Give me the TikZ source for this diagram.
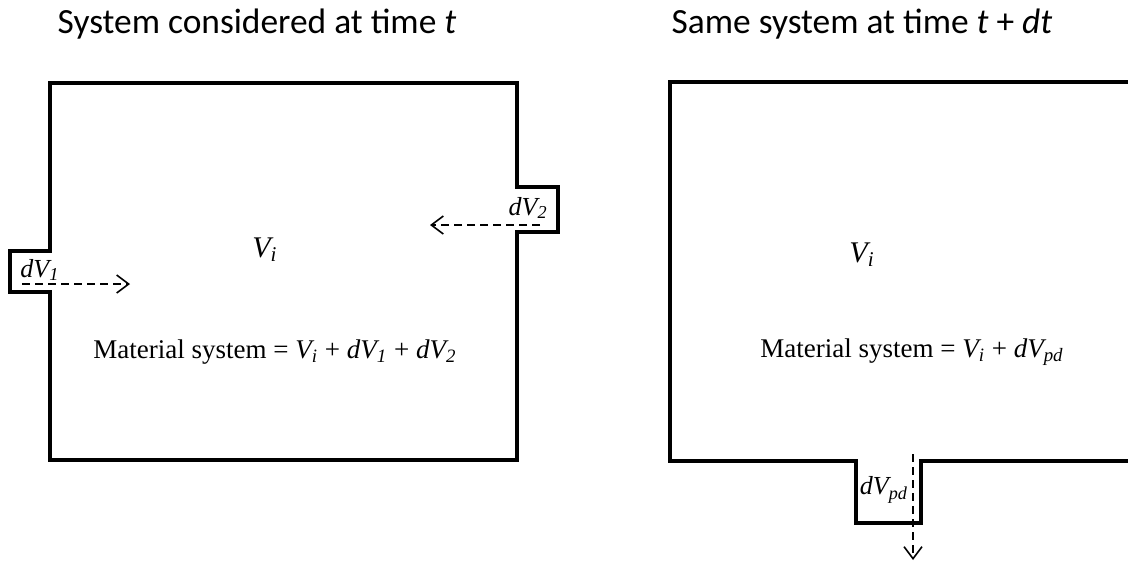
\documentclass[tikz,border=0pt]{standalone}
\usepackage{fontspec}
\setmainfont{Liberation Serif}
\newfontfamily\titlefont{Carlito}
\usetikzlibrary{arrows.meta}

\begin{document}
\begin{tikzpicture}[x=0.5pt, y=-0.5pt, >={Straight Barb[length=6pt,width=9pt]},
  wall/.style={line width=1.8pt, line join=miter},
  flow/.style={->, line width=0.8pt, dash pattern=on 4pt off 2.5pt},
  title/.style={font=\titlefont\fontsize{17.7}{20}\selectfont, inner sep=0pt},
  vol/.style={font=\fontsize{13}{15}\selectfont\itshape, inner sep=1pt},
  eqn/.style={font=\fontsize{13.5}{15}\selectfont}]

\useasboundingbox (0,0) rectangle (1128,564);

% Titles
\node[title] (tleft) at (257,24) {System considered at time \textit{t}};
\node[title] (tright) at (862,24) {Same system at time \textit{t} + \textit{dt}};

% System at time t
\draw[wall] (50,83) -- (517,83) -- (517,187) -- (558,187) -- (558,232) -- (517,232)
  -- (517,460) -- (50,460) -- (50,292) -- (10,292) -- (10,251) -- (50,251) -- cycle;

\node[font=\fontsize{15}{17}\selectfont\itshape] (vileft) at (265,250) {V\textsubscript{i}};
\node[vol, anchor=base west] (dv1) at (18,277) {dV\textsubscript{1}};
\node[vol, anchor=base east] (dv2) at (550,215) {dV\textsubscript{2}};
\node[eqn] (msleft) at (275,352)
  {Material system = \textit{V\textsubscript{i}} + \textit{dV\textsubscript{1}} + \textit{dV\textsubscript{2}}};

\coordinate (in1s) at (22,284);
\coordinate (in1e) at (130,284);
\coordinate (in2s) at (540,225);
\coordinate (in2e) at (430,225);
\draw[flow] (in1s) -- (in1e);
\draw[flow] (in2s) -- (in2e);

% System at time t + dt
\draw[wall] (1135,82) -- (670,82) -- (670,461) -- (856,461) -- (856,523) -- (921,523)
  -- (921,461) -- (1135,461);

\node[font=\fontsize{15}{17}\selectfont\itshape] (viright) at (862,255) {V\textsubscript{i}};
\node[vol] (dvpd) at (884,490) {dV\textsubscript{pd}};
\node[eqn] (msright) at (912,352)
  {Material system = \textit{V\textsubscript{i}} + \textit{dV\textsubscript{pd}}};

\coordinate (outs) at (913,454);
\coordinate (oute) at (913,560);
\draw[flow] (outs) -- (oute);

\end{tikzpicture}
\end{document}
